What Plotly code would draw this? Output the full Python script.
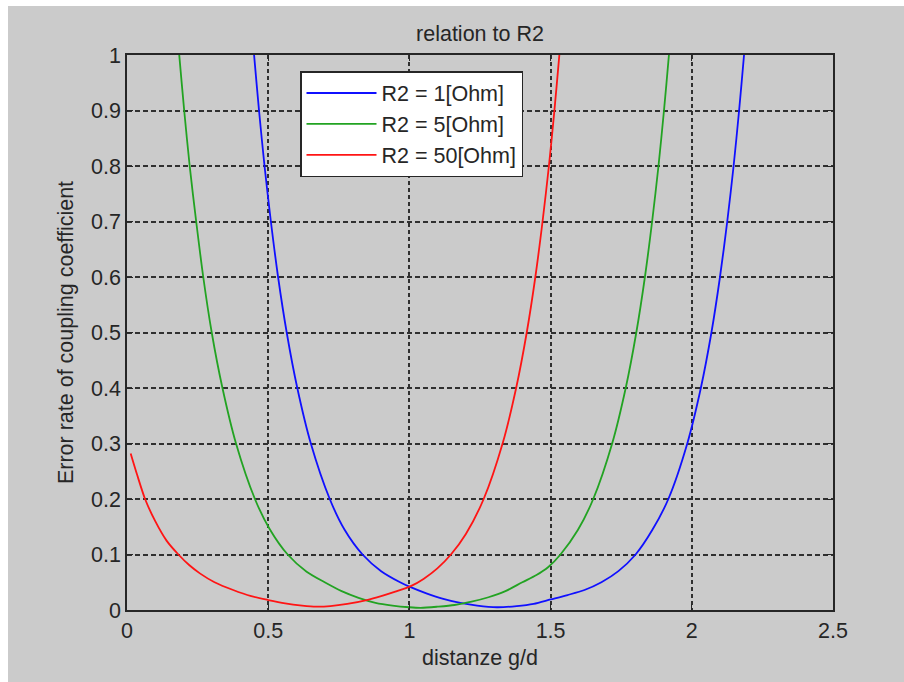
import plotly.graph_objects as go

# ---- data ----
x_r1 = [0.44, 0.45, 0.4675, 0.487, 0.5095, 0.535, 0.5655, 0.603, 0.651, 0.718, 0.77, 0.834, 0.90, 0.967,
        1.00, 1.06, 1.12, 1.18, 1.24, 1.31, 1.38, 1.44, 1.50, 1.56, 1.62, 1.68, 1.74, 1.801, 1.86, 1.917,
        1.984, 2.032, 2.0695, 2.0998, 2.1255, 2.148, 2.1675, 2.185, 2.195]
y_r1 = [1.06, 1.00, 0.90, 0.80, 0.70, 0.60, 0.50, 0.40, 0.30, 0.20, 0.145, 0.10, 0.07, 0.05,
        0.042, 0.030, 0.020, 0.013, 0.008, 0.005, 0.007, 0.011, 0.019, 0.027, 0.036, 0.050, 0.070, 0.10, 0.144, 0.20,
        0.30, 0.40, 0.50, 0.60, 0.70, 0.80, 0.90, 1.00, 1.06]

x_r5 = [0.175, 0.185, 0.2025, 0.222, 0.245, 0.27, 0.30, 0.338, 0.386, 0.453, 0.504, 0.569, 0.636, 0.70,
        0.76, 0.82, 0.88, 0.94, 1.00, 1.04, 1.10, 1.16, 1.22, 1.28, 1.34, 1.40, 1.45, 1.491, 1.535,
        1.5965, 1.651, 1.718, 1.766, 1.8035, 1.834, 1.8595, 1.882, 1.9015, 1.919, 1.93]
y_r5 = [1.06, 1.00, 0.90, 0.80, 0.70, 0.60, 0.50, 0.40, 0.30, 0.20, 0.147, 0.10, 0.069, 0.050,
        0.034, 0.022, 0.013, 0.008, 0.005, 0.004, 0.006, 0.009, 0.015, 0.023, 0.034, 0.050, 0.063, 0.077, 0.10,
        0.144, 0.20, 0.30, 0.40, 0.50, 0.60, 0.70, 0.80, 0.90, 1.00, 1.07]

x_r50 = [0.013, 0.035, 0.064, 0.10, 0.14, 0.182, 0.22, 0.258, 0.31, 0.376, 0.44, 0.50, 0.56, 0.62, 0.67,
         0.72, 0.78, 0.849, 0.90, 0.95, 1.005, 1.05, 1.099, 1.147, 1.20, 1.263, 1.33, 1.378, 1.4155, 1.446,
         1.4715, 1.494, 1.5135, 1.531, 1.541]
y_r50 = [0.282, 0.245, 0.20, 0.16, 0.125, 0.10, 0.081, 0.066, 0.050, 0.036, 0.025, 0.018, 0.012, 0.008, 0.006,
         0.007, 0.011, 0.018, 0.025, 0.033, 0.043, 0.056, 0.075, 0.10, 0.137, 0.20, 0.30, 0.40, 0.50, 0.60,
         0.70, 0.80, 0.90, 1.00, 1.06]

series_names = ["R2 = 1[Ohm]", "R2 = 5[Ohm]", "R2 = 50[Ohm]"]
series_colors = ["#1010ff", "#22a322", "#ff1414"]

x_ticks = [0, 0.5, 1, 1.5, 2, 2.5]
x_tick_labels = ["0", "0.5", "1", "1.5", "2", "2.5"]
y_ticks = [0, 0.1, 0.2, 0.3, 0.4, 0.5, 0.6, 0.7, 0.8, 0.9, 1]
y_tick_labels = ["0", "0.1", "0.2", "0.3", "0.4", "0.5", "0.6", "0.7", "0.8", "0.9", "1"]

FONT = "Arial, 'Liberation Sans', sans-serif"
GRAY = "#cbcbcb"
INK = "#262626"
FS = 21.5

fig = go.Figure()
for i, (xs, ys) in enumerate([(x_r1, y_r1), (x_r5, y_r5), (x_r50, y_r50)]):
    fig.add_trace(go.Scatter(
        x=xs, y=ys, mode="lines", name=series_names[i],
        line=dict(color=series_colors[i], width=1.8, shape="spline", smoothing=0.8),
        legendgroup=f"g{i}",
    ))

W, H = 904, 682
L, R, T, B = 127, 71, 55, 72
pw, ph = W - L - R, H - T - B

def px2paper_x(p):
    return (p - L) / pw

def px2paper_y(p):
    return (H - B - p) / ph

# gray figure background with a thin white strip on the top and left
fig.add_shape(type="rect", xref="paper", yref="paper",
              x0=px2paper_x(8), x1=px2paper_x(W + 5), y0=px2paper_y(H + 5), y1=px2paper_y(6),
              fillcolor=GRAY, line=dict(width=0), layer="below")

axis_common = dict(
    showline=True, linecolor=INK, linewidth=1.5, mirror="allticks",
    ticks="inside", ticklen=6, tickcolor=INK, tickwidth=1.3,
    showgrid=True, gridcolor="#303030", gridwidth=1.5,
    zeroline=False,
    tickfont=dict(family=FONT, size=FS, color=INK),
)

fig.update_layout(
    width=W, height=H,
    margin=dict(l=L, r=R, t=T, b=B, pad=0),
    paper_bgcolor="white", plot_bgcolor="white",
    title=dict(text="relation to R2", x=480 / W, xanchor="center",
               y=1 - 33 / H, yanchor="middle",
               font=dict(family=FONT, size=FS, color=INK)),
    xaxis=dict(range=[0, 2.5], tickvals=x_ticks, ticktext=x_tick_labels, griddash="4px,3px",
               ticklabelstandoff=0,
               title=dict(text="distanze g/d", font=dict(family=FONT, size=FS, color=INK), standoff=8),
               **axis_common),
    yaxis=dict(range=[0, 1], tickvals=y_ticks, ticktext=y_tick_labels, griddash="5px,3px",
               ticklabelstandoff=0,
               title=dict(text="Error rate of coupling coefficient", font=dict(family=FONT, size=FS, color=INK), standoff=12),
               **axis_common),
    legend=dict(x=px2paper_x(300), y=px2paper_y(71), xanchor="left", yanchor="top",
                bgcolor="white", bordercolor=INK, borderwidth=1.5,
                font=dict(family=FONT, size=FS, color=INK),
                traceorder="grouped", tracegroupgap=0, itemwidth=70),
    showlegend=True,
)

fig.write_html("out.html")
